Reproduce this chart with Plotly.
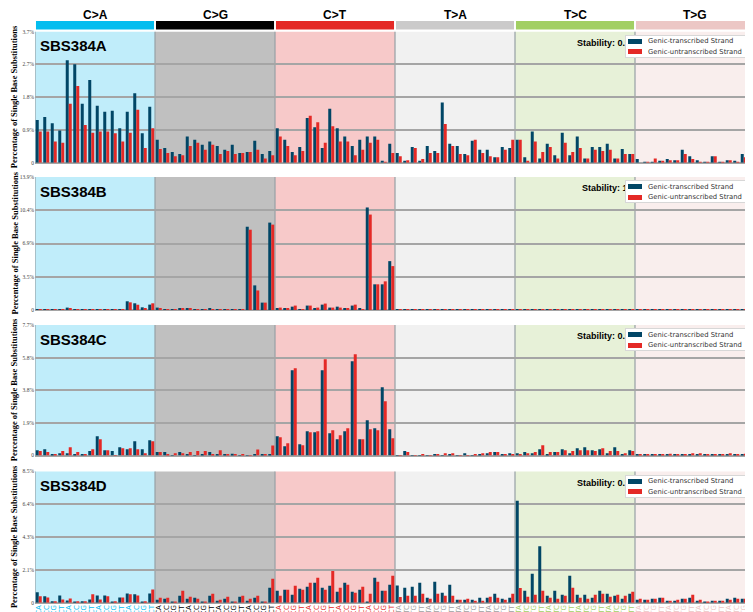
import plotly.graph_objects as go

# The page adds an 8px body margin; the figure is sized and positioned to compensate.
OFF = 8
W, H = 753 - OFF, 612 - OFF

groups = ["C>A", "C>G", "C>T", "T>A", "T>C", "T>G"]
bases = ["A", "C", "G", "T"]
contexts = [f"{a}{g[0]}{b}" for g in groups for a in bases for b in bases]

panel_names = ["SBS384A", "SBS384B", "SBS384C", "SBS384D"]
stability_text = ["Stability: 0.99", "Stability: 1.0", "Stability: 0.99", "Stability: 0.99"]
strand_names = ["Genic-transcribed Strand", "Genic-untranscribed Strand"]

# y axis maxima (percent) and tick labels
y_max = [3.66, 13.88, 7.7, 8.5]
y_tick_labels = [
    ["0", "0.9%", "1.8%", "2.7%", "3.7%"],
    ["0", "3.5%", "6.9%", "10.4%", "13.9%"],
    ["0", "1.9%", "3.8%", "5.8%", "7.7%"],
    ["0", "2.1%", "4.3%", "6.4%", "8.5%"],
]

# ---- values (percent), 96 contexts in order C>A, C>G, C>T, T>A, T>C, T>G ----
A_transcribed = [
    1.19, 1.28, 1.10, 0.90, 2.86, 2.75, 1.65, 2.31, 1.59, 1.42, 1.45, 0.96, 1.42, 1.94, 0.82, 1.56,
    0.64, 0.41, 0.30, 0.24, 0.73, 0.64, 0.50, 0.59, 0.47, 0.36, 0.50, 0.27, 0.30, 0.61, 0.24, 0.33,
    0.96, 0.64, 0.30, 0.44, 1.25, 0.99, 0.41, 1.51, 0.96, 0.73, 0.47, 0.64, 0.73, 0.73, 0.04, 0.53,
    0.27, 0.05, 0.44, 0.04, 0.47, 0.33, 1.68, 0.53, 0.47, 0.24, 0.61, 0.36, 0.36, 0.15, 0.44, 0.41,
    0.64, 0.15, 0.87, 0.12, 0.53, 0.21, 0.84, 0.21, 0.73, 0.12, 0.44, 0.44, 0.53, 0.12, 0.38, 0.24,
    0.10, 0.02, 0.02, 0.04, 0.10, 0.07, 0.36, 0.18, 0.07, 0.01, 0.18, 0.02, 0.07, 0.04, 0.24, 0.10,
]
A_untranscribed = [
    0.87, 0.87, 0.59, 0.56, 1.65, 2.14, 1.05, 0.84, 0.87, 0.87, 0.82, 0.59, 0.84, 1.48, 0.41, 0.96,
    0.38, 0.27, 0.18, 0.21, 0.47, 0.56, 0.36, 0.50, 0.24, 0.33, 0.24, 0.27, 0.30, 0.36, 0.12, 0.21,
    0.73, 0.47, 0.21, 0.33, 1.31, 1.13, 0.56, 1.02, 0.59, 0.59, 0.21, 0.36, 0.56, 0.64, 0.01, 0.27,
    0.18, 0.07, 0.41, 0.10, 0.27, 0.27, 1.08, 0.47, 0.24, 0.21, 0.64, 0.27, 0.18, 0.15, 0.36, 0.64,
    0.64, 0.04, 0.59, 0.30, 0.44, 0.12, 0.56, 0.30, 0.41, 0.12, 0.36, 0.33, 0.36, 0.12, 0.24, 0.24,
    0.00, 0.02, 0.12, 0.04, 0.07, 0.07, 0.24, 0.10, 0.02, 0.01, 0.18, 0.02, 0.07, 0.01, 0.15, 0.10,
]
B_transcribed = [
    0.03, 0.03, 0.03, 0.03, 0.25, 0.10, 0.03, 0.05, 0.05, 0.05, 0.05, 0.03, 0.91, 0.70, 0.28, 0.56,
    0.25, 0.05, 0.05, 0.14, 0.14, 0.05, 0.05, 0.20, 0.05, 0.05, 0.03, 0.10, 8.69, 2.57, 0.77, 9.12,
    0.14, 0.14, 0.35, 0.05, 0.46, 0.14, 0.56, 0.25, 0.35, 0.14, 0.46, 0.14, 10.70, 2.68, 2.68, 5.10,
    0.03, 0.02, 0.03, 0.02, 0.03, 0.02, 0.03, 0.02, 0.02, 0.03, 0.02, 0.03, 0.02, 0.03, 0.02, 0.03,
    0.03, 0.05, 0.03, 0.02, 0.03, 0.10, 0.03, 0.02, 0.08, 0.03, 0.02, 0.03, 0.02, 0.10, 0.03, 0.02,
    0.02, 0.02, 0.03, 0.02, 0.02, 0.03, 0.02, 0.02, 0.03, 0.02, 0.02, 0.02, 0.03, 0.02, 0.02, 0.02,
]
B_untranscribed = [
    0.03, 0.03, 0.03, 0.05, 0.14, 0.05, 0.03, 0.08, 0.05, 0.05, 0.10, 0.03, 0.80, 0.55, 0.14, 0.70,
    0.14, 0.10, 0.05, 0.14, 0.14, 0.05, 0.05, 0.10, 0.10, 0.05, 0.03, 0.05, 8.38, 2.04, 0.77, 8.91,
    0.25, 0.14, 0.46, 0.05, 0.46, 0.25, 0.67, 0.25, 0.25, 0.14, 0.56, 0.10, 9.96, 2.68, 2.99, 4.58,
    0.02, 0.03, 0.02, 0.03, 0.02, 0.03, 0.02, 0.03, 0.03, 0.02, 0.03, 0.02, 0.03, 0.02, 0.03, 0.02,
    0.02, 0.03, 0.05, 0.03, 0.02, 0.05, 0.02, 0.03, 0.05, 0.02, 0.03, 0.02, 0.03, 0.05, 0.02, 0.03,
    0.03, 0.02, 0.02, 0.03, 0.02, 0.02, 0.03, 0.02, 0.02, 0.03, 0.02, 0.03, 0.02, 0.02, 0.03, 0.02,
]
C_transcribed = [
    0.31, 0.37, 0.08, 0.14, 0.14, 0.08, 0.08, 0.26, 1.14, 0.31, 0.26, 0.49, 0.37, 0.84, 0.37, 0.90,
    0.20, 0.20, 0.02, 0.20, 0.08, 0.02, 0.08, 0.20, 0.08, 0.08, 0.10, 0.02, 0.02, 0.04, 0.04, 0.04,
    1.14, 0.55, 5.03, 0.67, 1.43, 1.37, 5.03, 1.32, 0.96, 1.43, 5.56, 0.96, 2.08, 1.61, 4.03, 1.55,
    0.02, 0.26, 0.02, 0.02, 0.02, 0.08, 0.02, 0.08, 0.02, 0.14, 0.02, 0.08, 0.14, 0.20, 0.08, 0.14,
    0.14, 0.20, 0.14, 0.37, 0.08, 0.20, 0.37, 0.14, 0.43, 0.49, 0.31, 0.37, 0.14, 0.49, 0.08, 0.31,
    0.08, 0.08, 0.04, 0.04, 0.04, 0.04, 0.08, 0.04, 0.08, 0.04, 0.04, 0.04, 0.04, 0.08, 0.04, 0.04,
]
C_untranscribed = [
    0.26, 0.20, 0.08, 0.26, 0.49, 0.20, 0.08, 0.37, 0.96, 0.31, 0.02, 0.43, 0.43, 0.37, 0.14, 0.84,
    0.20, 0.08, 0.14, 0.14, 0.20, 0.26, 0.26, 0.08, 0.31, 0.08, 0.08, 0.08, 0.02, 0.35, 0.04, 0.59,
    1.08, 0.73, 5.15, 0.61, 1.37, 1.43, 5.68, 1.49, 1.20, 1.61, 5.97, 0.96, 1.55, 1.49, 3.20, 1.02,
    0.02, 0.20, 0.02, 0.08, 0.02, 0.08, 0.14, 0.14, 0.02, 0.02, 0.08, 0.14, 0.20, 0.20, 0.08, 0.08,
    0.08, 0.14, 0.20, 0.61, 0.20, 0.20, 0.31, 0.26, 0.31, 0.31, 0.26, 0.43, 0.26, 0.26, 0.14, 0.26,
    0.04, 0.04, 0.08, 0.04, 0.10, 0.04, 0.04, 0.14, 0.14, 0.04, 0.04, 0.08, 0.14, 0.04, 0.10, 0.14,
]
D_transcribed = [
    0.67, 0.41, 0.09, 0.47, 0.15, 0.02, 0.09, 0.21, 0.47, 0.47, 0.02, 0.34, 0.60, 0.54, 0.04, 0.60,
    0.19, 0.26, 0.06, 0.45, 0.26, 0.32, 0.06, 0.45, 0.13, 0.26, 0.06, 0.39, 0.13, 0.32, 0.06, 0.97,
    0.77, 0.84, 0.52, 0.90, 1.03, 1.29, 0.97, 1.10, 0.71, 1.29, 0.71, 0.84, 0.06, 1.61, 0.77, 1.16,
    1.12, 0.97, 1.03, 1.29, 0.32, 1.35, 0.64, 1.16, 0.19, 0.19, 0.19, 0.32, 0.32, 0.58, 0.26, 0.32,
    6.60, 0.77, 1.87, 3.65, 0.45, 0.77, 0.52, 1.74, 0.52, 0.52, 0.32, 0.77, 0.58, 0.45, 0.26, 0.58,
    0.19, 0.19, 0.26, 0.32, 0.13, 0.13, 0.26, 0.32, 0.13, 0.06, 0.13, 0.13, 0.26, 0.32, 0.26, 0.52,
]
D_untranscribed = [
    0.41, 0.34, 0.09, 0.21, 0.28, 0.09, 0.09, 0.54, 0.21, 0.41, 0.09, 0.34, 0.54, 0.47, 0.09, 0.86,
    0.32, 0.32, 0.06, 0.77, 0.39, 0.26, 0.06, 0.58, 0.19, 0.39, 0.06, 0.45, 0.26, 0.45, 0.06, 1.55,
    0.45, 0.84, 1.10, 0.84, 1.29, 1.61, 0.84, 2.06, 0.97, 1.16, 0.64, 1.03, 0.58, 1.35, 0.77, 1.74,
    0.37, 0.45, 0.45, 0.58, 0.26, 0.58, 0.45, 0.45, 0.19, 0.26, 0.13, 0.13, 0.39, 0.32, 0.19, 0.58,
    0.95, 0.39, 0.52, 0.77, 0.32, 0.26, 0.45, 0.97, 0.32, 0.26, 0.52, 0.58, 0.39, 0.52, 0.45, 0.71,
    0.26, 0.19, 0.26, 0.32, 0.13, 0.19, 0.26, 0.52, 0.19, 0.06, 0.13, 0.13, 0.19, 0.26, 0.26, 0.71,
]

transcribed = [A_transcribed, B_transcribed, C_transcribed, D_transcribed]
untranscribed = [A_untranscribed, B_untranscribed, C_untranscribed, D_untranscribed]

# ---- styling ----
header_colors = ["rgb(3,189,239)", "rgb(1,1,1)", "rgb(228,41,38)",
                 "rgb(203,202,202)", "rgb(162,207,99)", "rgb(236,199,197)"]
bg_colors = ["rgb(192,237,250)", "rgb(192,192,192)", "rgb(247,201,201)",
             "rgb(241,241,241)", "rgb(231,241,216)", "rgb(249,238,237)"]
label_colors = ["rgb(3,189,239)", "rgb(1,1,1)", "rgb(228,41,38)",
                "rgb(160,160,160)", "rgb(162,207,99)", "rgb(236,199,197)"]
c_trans = "rgb(1,70,102)"
c_untrans = "rgb(228,41,38)"

# positions in page pixels (reference coordinates)
panel_top = [31.7, 177.0, 325.0, 471.5]
panel_bot = [162.7, 310.0, 455.5, 602.7]
L = 35
SLOT = 7.5
x_range = [-0.5, -0.5 + (753 - L) / SLOT]


def py(p):
    return 1 - (p - OFF) / H


def px(p):
    return (p - OFF) / W


fig = go.Figure()
shapes = []
annotations = []
xs = list(range(96))

for i in range(4):
    sfx = "" if i == 0 else str(i + 1)
    xa, ya = "x" + sfx, "y" + sfx
    fig.add_trace(go.Bar(x=xs, y=transcribed[i], name=strand_names[0], marker_color=c_trans,
                         marker_line_width=0, xaxis=xa, yaxis=ya, showlegend=False))
    fig.add_trace(go.Bar(x=xs, y=untranscribed[i], name=strand_names[1], marker_color=c_untrans,
                         marker_line_width=0, xaxis=xa, yaxis=ya, showlegend=False))
    ym = y_max[i]
    fig.update_layout(**{
        "xaxis" + sfx: dict(domain=[px(L), 1], range=x_range, anchor=ya,
                            showgrid=False, zeroline=False, showline=False, ticks="",
                            tickvals=xs,
                            ticktext=[f'<span style="color:{label_colors[k // 16]}">{c}</span>'
                                      for k, c in enumerate(contexts)],
                            tickangle=-90, tickfont=dict(size=7, family="DejaVu Sans"),
                            showticklabels=(i == 3), automargin=False,
                            **({} if i == 0 else {"matches": "x"})),
        "yaxis" + sfx: dict(domain=[py(panel_bot[i]), py(panel_top[i])], range=[0, ym],
                            anchor=xa, tickvals=[ym * k / 4 for k in range(5)],
                            ticktext=y_tick_labels[i], showgrid=True,
                            gridcolor="rgb(165,165,165)", gridwidth=1.5,
                            zeroline=True, zerolinecolor="rgb(165,165,165)", zerolinewidth=1.5,
                            showline=False, ticks="",
                            tickfont=dict(size=5.5, family="Liberation Serif", color="#444"),
                            automargin=False, fixedrange=True),
    })
    # group backgrounds
    for g in range(6):
        shapes.append(dict(type="rect", xref=xa, yref=ya + " domain", x0=g * 16 - 0.5,
                           x1=g * 16 + 15.5, y0=0, y1=1, fillcolor=bg_colors[g],
                           line=dict(width=0), layer="below"))
    for g in range(6):
        shapes.append(dict(type="line", xref=xa, yref=ya + " domain", x0=g * 16 - 0.5,
                           x1=g * 16 - 0.5, y0=0, y1=1,
                           line=dict(color="rgb(150,160,165)", width=1.2), layer="below"))
    top = panel_top[i]
    annotations.append(dict(text=panel_names[i], xref="paper", yref="paper",
                            x=px(L + 3), y=py(top + 14), xanchor="left", yanchor="middle",
                            showarrow=False,
                            font=dict(family="Liberation Sans", size=15, color="black",
                                      weight="bold")))
    annotations.append(dict(text="Percentage of Single Base Substitutions", xref="paper",
                            yref="paper", x=px(14), y=py((panel_top[i] + panel_bot[i]) / 2),
                            xanchor="center", yanchor="middle", textangle=-90, showarrow=False,
                            font=dict(family="Liberation Serif", size=8.5, color="black",
                                      weight="bold")))
    annotations.append(dict(text=stability_text[i], xref="paper", yref="paper",
                            x=px(637), y=py(top + 11), xanchor="right", yanchor="middle",
                            showarrow=False,
                            font=dict(family="Liberation Sans", size=9, color="black",
                                      weight="bold")))
    # legend box (drawn over the stability text)
    annotations.append(dict(text=" ", xref="paper", yref="paper", x=px(625), y=py(top + 3),
                            xanchor="left", yanchor="top", showarrow=False, width=122, height=21,
                            bgcolor="white", bordercolor="rgb(215,215,215)", borderwidth=1,
                            borderpad=0, font=dict(size=4)))
    for k, (nm, col) in enumerate(zip(strand_names, [c_trans, c_untrans])):
        yc = top + 9.8 + k * 10.4
        annotations.append(dict(text=" ", xref="paper", yref="paper", x=px(628), y=py(yc),
                                xanchor="left", yanchor="middle", showarrow=False, width=14,
                                height=5, bgcolor=col, borderpad=0, borderwidth=0,
                                font=dict(size=4)))
        annotations.append(dict(text=nm, xref="paper", yref="paper", x=px(646), y=py(yc),
                                xanchor="left", yanchor="middle", showarrow=False,
                                font=dict(family="DejaVu Sans", size=6.8, color="#333")))

# top header bars and labels
for g in range(6):
    x0 = g * 16 - 0.5 + 0.13
    x1 = min(g * 16 + 15.5 - 0.13, x_range[1])
    shapes.append(dict(type="rect", xref="x", yref="paper", x0=x0, x1=x1,
                       y0=py(29.5), y1=py(21), fillcolor=header_colors[g],
                       line=dict(width=0), layer="above"))
    annotations.append(dict(text=groups[g], xref="x", yref="paper", x=g * 16 + 7.5,
                            y=py(15), xanchor="center", yanchor="middle", showarrow=False,
                            font=dict(family="Liberation Sans", size=12, color="black",
                                      weight="bold")))

fig.update_layout(
    width=W, height=H, autosize=False,
    margin=dict(l=0, r=0, t=0, b=0),
    paper_bgcolor="white", plot_bgcolor="white",
    barmode="group", bargap=0.2, bargroupgap=0,
    shapes=shapes, annotations=annotations, showlegend=False,
)

fig.write_html("out.html")
